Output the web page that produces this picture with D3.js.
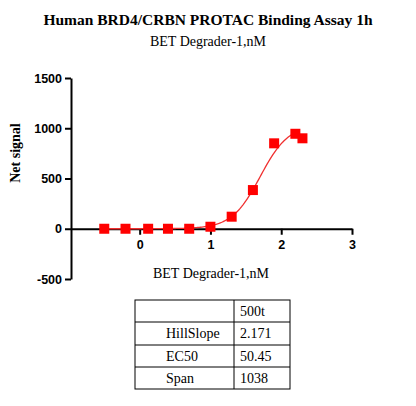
<!DOCTYPE html><html><head><meta charset="utf-8"><script src="https://cdn.jsdelivr.net/npm/d3@7"></script>
<style>body{margin:0;background:#fff}</style></head><body><svg id="c" width="416" height="406"></svg>
<script>
const xVals=[-0.5,-0.2,0.12,0.4,0.7,1.0,1.3,1.6,1.9,2.2,2.3];
const yVals=[0,0,0,0,0,20,120,385,850,945,900];
const xTicks=[0,1,2,3];
const yTicks=[-500,0,500,1000,1500];
const params={bottom:0,span:1038,ec50:50.45,hill:2.171};
const tableRows=[["","500t"],["HillSlope","2.171"],["EC50","50.45"],["Span","1038"]];
const svg=d3.select("#c");
const x=d3.scaleLinear().domain([-0.97,3]).range([71,352]);
const y=d3.scaleLinear().domain([-500,1500]).range([279,78]);
const serif="'Liberation Serif','Times New Roman',serif", sans="'Liberation Sans',Arial,sans-serif";
const fmt=d=>String(d);
svg.append("text").attr("x",208).attr("y",25).attr("text-anchor","middle").attr("font-family",serif).attr("font-weight","bold").attr("font-size",15.5).text("Human BRD4/CRBN PROTAC Binding Assay 1h");
svg.append("text").attr("x",208).attr("y",46).attr("text-anchor","middle").attr("font-family",serif).attr("font-size",14).text("BET Degrader-1,nM");
const ya=svg.append("g").attr("transform","translate(71,0)").call(d3.axisLeft(y).tickValues(yTicks).tickSize(6).tickSizeOuter(0).tickFormat(fmt));
const xa=svg.append("g").attr("transform",`translate(0,${y(0)})`).call(d3.axisBottom(x).tickValues(xTicks).tickSize(6).tickSizeOuter(0).tickFormat(fmt));
[ya,xa].forEach(g=>{g.selectAll("path,line").attr("stroke","#000").attr("stroke-width",2);g.selectAll("text").attr("font-family",sans).attr("font-weight","bold").attr("font-size",12.5).attr("fill","#000");});
xa.selectAll("text").attr("dy","0.9em");
svg.append("text").attr("transform","translate(20,153) rotate(-90)").attr("text-anchor","middle").attr("font-family",serif).attr("font-weight","bold").attr("font-size",14).text("Net signal");
svg.append("text").attr("x",211).attr("y",278).attr("text-anchor","middle").attr("font-family",serif).attr("font-size",14).text("BET Degrader-1,nM");
const le=Math.log10(params.ec50);
const f=t=>params.bottom+params.span/(1+Math.pow(10,(le-t)*params.hill));
const cx=d3.range(-0.5,2.2001,0.02);
svg.append("path").attr("d",d3.line().x(d=>x(d)).y(d=>y(f(d)))(cx)).attr("fill","none").attr("stroke","#f03030").attr("stroke-width",1.3);
svg.selectAll("rect.p").data(xVals).enter().append("rect").attr("x",(d)=>x(d)-5).attr("y",(d,i)=>y(yVals[i])-5).attr("width",10).attr("height",10).attr("fill","#f00");
const tx=[135,234,290], ty=[300,322,345,367,389];
const tg=svg.append("g");
tg.append("rect").attr("x",tx[0]).attr("y",ty[0]).attr("width",tx[2]-tx[0]).attr("height",ty[4]-ty[0]).attr("fill","none").attr("stroke","#000");
ty.slice(1,4).forEach(v=>tg.append("line").attr("x1",tx[0]).attr("x2",tx[2]).attr("y1",v).attr("y2",v).attr("stroke","#000"));
tg.append("line").attr("x1",tx[1]).attr("x2",tx[1]).attr("y1",ty[0]).attr("y2",ty[4]).attr("stroke","#000");
tableRows.forEach((r,i)=>{
 tg.append("text").attr("x",166).attr("y",ty[i]+16).attr("font-family",serif).attr("font-size",14).text(r[0]);
 tg.append("text").attr("x",240).attr("y",ty[i]+16).attr("font-family",serif).attr("font-size",14).text(r[1]);
});
</script></body></html>
